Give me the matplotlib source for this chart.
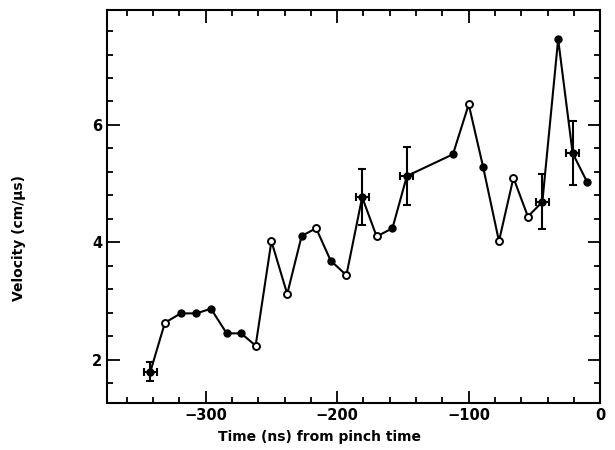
import matplotlib.pyplot as plt
from matplotlib.ticker import MultipleLocator
import numpy as np

# ---------------------------------------------------------------------------
# Data
# ---------------------------------------------------------------------------
time_ns = [-342, -331, -319, -307, -296, -284, -273, -262, -250, -238,
           -227, -216, -205, -193, -181, -170, -158, -147, -112, -100,
           -89, -77, -66, -55, -44, -32, -21, -10]
velocity = [1.80, 2.63, 2.79, 2.79, 2.87, 2.45, 2.45, 2.24, 4.02, 3.12,
            4.11, 4.24, 3.69, 3.44, 4.77, 4.10, 4.24, 5.13, 5.50, 6.35,
            5.28, 4.02, 5.10, 4.44, 4.69, 7.46, 5.52, 5.03]
# marker kind: 'o' open, 'f' filled, 'e' with error bars
kind = ['e', 'o', 'f', 'f', 'f', 'f', 'f', 'o', 'o', 'o',
        'f', 'o', 'f', 'o', 'e', 'o', 'f', 'e', 'f', 'o',
        'f', 'o', 'o', 'o', 'e', 'f', 'e', 'f']
yerr_vals = {0: 0.17, 14: 0.48, 17: 0.50, 24: 0.47, 26: 0.55}
xerr_val = 5

t = np.array(time_ns)
v = np.array(velocity)
k = np.array(kind)

# ---------------------------------------------------------------------------
# Plot
# ---------------------------------------------------------------------------
fig = plt.figure(figsize=(6.15, 4.5), dpi=100)
ax = fig.add_axes([0.174, 0.104, 0.802, 0.874])

ax.plot(t, v, color='black', linewidth=1.5, zorder=2)

filled = k != 'o'
ax.plot(t[filled], v[filled], 'o', color='black', markersize=5, zorder=3)
ax.plot(t[k == 'o'], v[k == 'o'], 'o', markerfacecolor='white',
        markeredgecolor='black', markeredgewidth=1.4, markersize=5, zorder=3)

for i, ye in yerr_vals.items():
    ax.errorbar(t[i], v[i], yerr=ye, xerr=xerr_val, fmt='none',
                ecolor='black', elinewidth=1.5, capsize=3, capthick=1.5,
                zorder=4)

ax.set_xlim(-375, 0)
ax.set_ylim(1.26, 7.96)
ax.xaxis.set_major_locator(MultipleLocator(100))
ax.xaxis.set_minor_locator(MultipleLocator(20))
ax.yaxis.set_major_locator(MultipleLocator(2))
ax.yaxis.set_minor_locator(MultipleLocator(0.4))

ax.tick_params(which='both', direction='in', top=True, right=True,
               width=1.3, labelsize=10.5)
ax.tick_params(which='major', length=9)
ax.tick_params(which='minor', length=4)
for lab in ax.get_xticklabels() + ax.get_yticklabels():
    lab.set_fontweight('bold')
for sp in ax.spines.values():
    sp.set_linewidth(1.5)

ax.set_xlabel('Time (ns) from pinch time', fontsize=10, fontweight='bold')
ax.set_ylabel('Velocity (cm/\u03bcs)', fontsize=10, fontweight='bold')
ax.xaxis.set_label_coords(0.43, -0.068)
ax.yaxis.set_label_coords(-0.165, 0.42)

fig.savefig('out.png', dpi=100)
